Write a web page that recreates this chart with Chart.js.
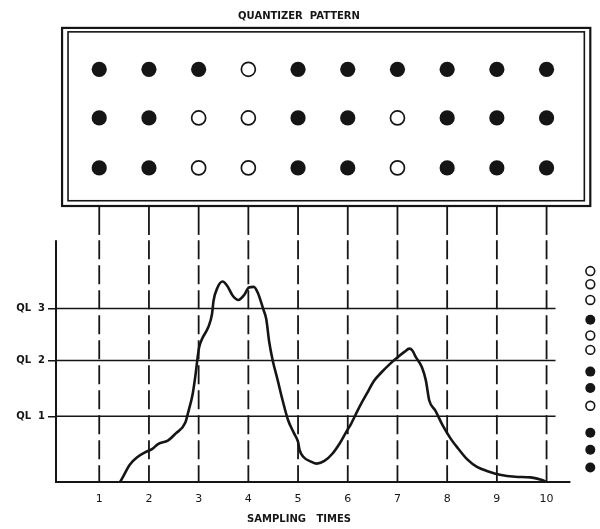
<!DOCTYPE html>
<html>
<head>
<meta charset="utf-8">
<title>Quantizer pattern</title>
<script src="https://cdn.jsdelivr.net/npm/chart.js@4"></script>
<style>
  html, body { margin: 0; padding: 0; background: #fff; }
  #chart { display: block; }
</style>
</head>
<body>
<canvas id="chart" width="600" height="529"></canvas>
<script>
// sampling times (dashed verticals and x tick labels)
const sampleTimes = [1, 2, 3, 4, 5, 6, 7, 8, 9, 10];

// quantizer levels, in units of QL 1
const qlLevels = [1, 1.85, 2.64];
const qlLabels = ['QL  1', 'QL  2', 'QL  3'];

// analog signal
const curveX = [1.42, 1.50, 1.61, 1.77, 1.92, 2.06, 2.19, 2.38, 2.54, 2.73, 2.80, 2.88, 2.94, 2.98, 3.01,
  3.07, 3.19, 3.27, 3.30, 3.38, 3.48, 3.57, 3.69, 3.80, 3.92, 4.01, 4.11, 4.19, 4.30, 4.36, 4.42,
  4.49, 4.59, 4.69, 4.80, 4.92, 5.00, 5.03, 5.11, 5.26, 5.38, 5.53, 5.69, 5.84, 5.99, 6.07, 6.22,
  6.38, 6.53, 6.68, 6.84, 6.99, 7.14, 7.24, 7.30, 7.37, 7.49, 7.57, 7.64, 7.76, 7.91, 8.07, 8.22,
  8.41, 8.60, 8.83, 9.06, 9.37, 9.68, 9.91, 10.0];
const curveY = [0, 0.11, 0.26, 0.38, 0.45, 0.50, 0.58, 0.63, 0.74, 0.90, 1.09, 1.34, 1.65, 1.90, 2.05,
  2.18, 2.35, 2.56, 2.76, 2.96, 3.05, 2.99, 2.83, 2.77, 2.85, 2.96, 2.97, 2.88, 2.63, 2.48, 2.13,
  1.85, 1.55, 1.24, 0.94, 0.74, 0.61, 0.49, 0.38, 0.31, 0.28, 0.32, 0.43, 0.59, 0.79, 0.89, 1.12,
  1.34, 1.54, 1.67, 1.79, 1.89, 1.98, 2.03, 2.00, 1.90, 1.75, 1.55, 1.24, 1.09, 0.86, 0.66, 0.51,
  0.34, 0.23, 0.16, 0.11, 0.08, 0.07, 0.03, 0];

// quantizer pattern box: 1 = filled dot, 0 = open dot (rows top to bottom)
const patternRowY = [6.28, 5.54, 4.78];
const patternRows = [
  [1, 1, 1, 0, 1, 1, 1, 1, 1, 1],
  [1, 1, 0, 0, 1, 1, 0, 1, 1, 1],
  [1, 1, 0, 0, 1, 1, 0, 1, 1, 1]
];

// code column at the right
const codeX = 10.88;
const codeY = [3.21, 3.01, 2.77, 2.47, 2.23, 2.01, 1.68, 1.43, 1.16, 0.75, 0.49, 0.22];
const codeFilled = [0, 0, 0, 1, 0, 0, 1, 1, 0, 1, 1, 1];

const INK = '#151515';
const FONT = "'DejaVu Sans', sans-serif";

const filledDots = [];
const openDots = [];
patternRows.forEach((row, r) => {
    row.forEach((f, i) => {
        const p = { x: sampleTimes[i], y: patternRowY[r] };
        if (f) filledDots.push(p); else openDots.push(p);
    });
});
const codeFilledDots = [];
const codeOpenDots = [];
codeY.forEach((y, i) => {
    if (codeFilled[i]) codeFilledDots.push({ x: codeX, y: y });
    else codeOpenDots.push({ x: codeX, y: y });
});

// frame, axes, quantizer lines and sampling lines
const framePlugin = {
    id: 'frame',
    beforeDatasetsDraw(chart) {
        const ctx = chart.ctx;
        const xs = chart.scales.x;
        const ys = chart.scales.y;
        const px = v => xs.getPixelForValue(v);
        const py = v => ys.getPixelForValue(v);
        ctx.save();
        ctx.strokeStyle = INK;

        // double box round the pattern
        ctx.lineWidth = 2.2;
        ctx.strokeRect(px(0.252), py(6.91), px(10.88) - px(0.252), py(4.20) - py(6.91));
        ctx.lineWidth = 1.6;
        ctx.strokeRect(px(0.372), py(6.85), px(10.76) - px(0.372), py(4.28) - py(6.85));

        // sampling lines
        ctx.lineWidth = 1.8;
        sampleTimes.forEach(t => {
            const x = px(t);
            ctx.setLineDash([]);
            ctx.beginPath();
            ctx.moveTo(x, py(4.20));
            ctx.lineTo(x, py(3.76));
            ctx.stroke();
            ctx.setLineDash([19, 6]);
            ctx.beginPath();
            ctx.moveTo(x, py(3.68));
            ctx.lineTo(x, py(0));
            ctx.stroke();
        });
        ctx.setLineDash([]);

        // quantizer levels
        ctx.lineWidth = 1.5;
        qlLevels.forEach(q => {
            ctx.beginPath();
            ctx.moveTo(xs.left, py(q));
            ctx.lineTo(px(10.18), py(q));
            ctx.stroke();
        });

        // axes
        ctx.lineWidth = 2;
        ctx.beginPath();
        ctx.moveTo(xs.left, py(3.68));
        ctx.lineTo(xs.left, py(0));
        ctx.lineTo(px(10.48), py(0));
        ctx.stroke();
        ctx.restore();
    }
};

new Chart(document.getElementById('chart'), {
    type: 'scatter',
    data: {
        datasets: [
            {
                type: 'line',
                data: curveX.map((x, i) => ({ x: x, y: curveY[i] })),
                borderColor: INK,
                borderWidth: 2.6,
                pointRadius: 0,
                cubicInterpolationMode: 'monotone',
                fill: false
            },
            {
                data: filledDots,
                pointRadius: 7.6,
                backgroundColor: INK,
                borderWidth: 0
            },
            {
                data: openDots,
                pointRadius: 7,
                backgroundColor: '#fff',
                borderColor: INK,
                borderWidth: 1.7
            },
            {
                data: codeFilledDots,
                clip: false,
                pointRadius: 5,
                backgroundColor: INK,
                borderWidth: 0
            },
            {
                data: codeOpenDots,
                clip: false,
                pointRadius: 4.4,
                backgroundColor: '#fff',
                borderColor: INK,
                borderWidth: 1.6
            }
        ]
    },
    options: {
        responsive: false,
        devicePixelRatio: 1,
        animation: false,
        layout: { padding: { left: 0, right: 2, top: 0, bottom: 0 } },
        plugins: {
            legend: { display: false },
            tooltip: { enabled: false },
            title: {
                display: true,
                text: 'QUANTIZER  PATTERN',
                color: INK,
                font: { family: FONT, size: 10, weight: 'bold' },
                padding: { top: 10, bottom: 0 }
            },
            subtitle: {
                display: true,
                position: 'bottom',
                text: 'SAMPLING   TIMES',
                color: INK,
                font: { family: FONT, size: 10, weight: 'bold' },
                padding: { top: 4, bottom: 4 }
            }
        },
        scales: {
            x: {
                type: 'linear',
                min: 0.13,
                max: 10.9,
                afterBuildTicks: axis => { axis.ticks = sampleTimes.map(v => ({ value: v })); },
                afterFit: axis => { axis.height = 27; },
                grid: { display: false },
                border: { display: false },
                ticks: {
                    color: INK,
                    padding: 3,
                    font: { family: FONT, size: 11 },
                    callback: v => String(v)
                }
            },
            y: {
                type: 'linear',
                min: 0,
                max: 7,
                afterBuildTicks: axis => { axis.ticks = qlLevels.map(v => ({ value: v })); },
                afterFit: axis => { axis.width = 56; },
                grid: {
                    drawOnChartArea: false,
                    drawTicks: true,
                    tickLength: 8,
                    color: INK,
                    lineWidth: 1.5
                },
                border: { display: false },
                ticks: {
                    color: INK,
                    padding: 3,
                    font: { family: FONT, size: 10, weight: 'bold' },
                    callback: v => qlLabels[qlLevels.indexOf(v)]
                }
            }
        }
    },
    plugins: [framePlugin]
});
</script>
</body>
</html>
